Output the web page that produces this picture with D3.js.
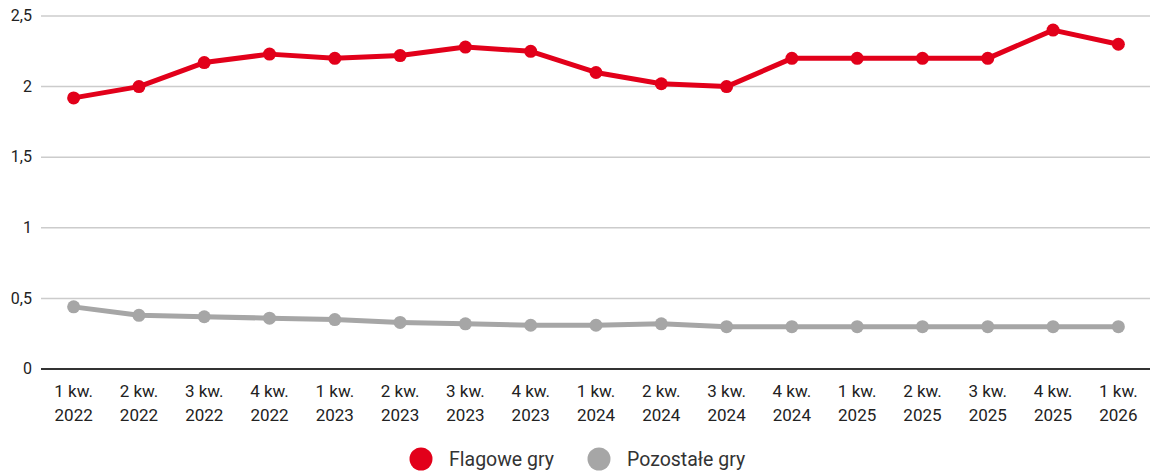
<!DOCTYPE html>
<html><head><meta charset="utf-8">
<script src="https://cdn.jsdelivr.net/npm/d3@7"></script>
<style>body{margin:0;background:#fff;font-family:Roboto,sans-serif;}</style>
</head><body><svg id="c" width="1150" height="475"></svg>
<script>
const categories = ["1 kw.|2022","2 kw.|2022","3 kw.|2022","4 kw.|2022","1 kw.|2023","2 kw.|2023","3 kw.|2023","4 kw.|2023","1 kw.|2024","2 kw.|2024","3 kw.|2024","4 kw.|2024","1 kw.|2025","2 kw.|2025","3 kw.|2025","4 kw.|2025","1 kw.|2026"];
const flagowe = [1.92,2.0,2.17,2.23,2.2,2.22,2.28,2.25,2.1,2.02,2.0,2.2,2.2,2.2,2.2,2.4,2.3];
const pozostale = [0.44,0.38,0.37,0.36,0.35,0.33,0.32,0.31,0.31,0.32,0.30,0.30,0.30,0.30,0.30,0.30,0.30];
const yTicks = [0,0.5,1,1.5,2,2.5];
const yTickLabels = ["0","0,5","1","1,5","2","2,5"];
const seriesNames = ["Flagowe gry","Pozostałe gry"];
const colors = ["#e2001a","#a6a6a6"];

(function(){
const svg = d3.select("#c");
const mL = 41, mR = 1151, mT = 16, mB = 369;
const x = d3.scalePoint().domain(categories).range([mL, mR]).padding(0.5);
const y = d3.scaleLinear().domain([0,2.5]).range([mB, mT]);

svg.append("g").selectAll("line").data(yTicks).join("line")
  .attr("x1", mL).attr("x2", mR)
  .attr("y1", d=>y(d)).attr("y2", d=>y(d))
  .attr("stroke", d=> d===0 ? "#333" : "#cccccc").attr("stroke-width", d=> d===0?2:1.5);

svg.append("g").selectAll("text").data(yTicks).join("text")
  .attr("x", 32).attr("y", d=>y(d)).attr("dy","0.33em")
  .attr("text-anchor","end").attr("font-size",16).attr("fill","#222")
  .text((d,i)=>yTickLabels[i]);

const xl = svg.append("g").selectAll("text").data(categories).join("text")
  .attr("x", d=>x(d)).attr("y", 397).attr("text-anchor","middle")
  .attr("font-size",17).attr("fill","#222");
xl.append("tspan").attr("x", d=>x(d)).text(d=>d.split("|")[0]);
xl.append("tspan").attr("x", d=>x(d)).attr("dy", 24).text(d=>d.split("|")[1]);

const line = d3.line().x((d,i)=>x(categories[i])).y(d=>y(d));
[flagowe, pozostale].forEach((s,k)=>{
  svg.append("path").datum(s).attr("d", line).attr("fill","none")
    .attr("stroke", colors[k]).attr("stroke-width",5).attr("stroke-linejoin","round");
  svg.append("g").selectAll("circle").data(s).join("circle")
    .attr("cx",(d,i)=>x(categories[i])).attr("cy", d=>y(d)).attr("r",6.5).attr("fill",colors[k]);
});

const lg = svg.append("g");
const lx = [421, 599];
seriesNames.forEach((n,k)=>{
  lg.append("circle").attr("cx", lx[k]).attr("cy", 459).attr("r", 11.5).attr("fill", colors[k]);
  lg.append("text").attr("x", lx[k]+28).attr("y", 459).attr("dy","0.35em")
    .attr("font-size",19.5).attr("fill","#333").text(n);
});
})();
</script></body></html>
